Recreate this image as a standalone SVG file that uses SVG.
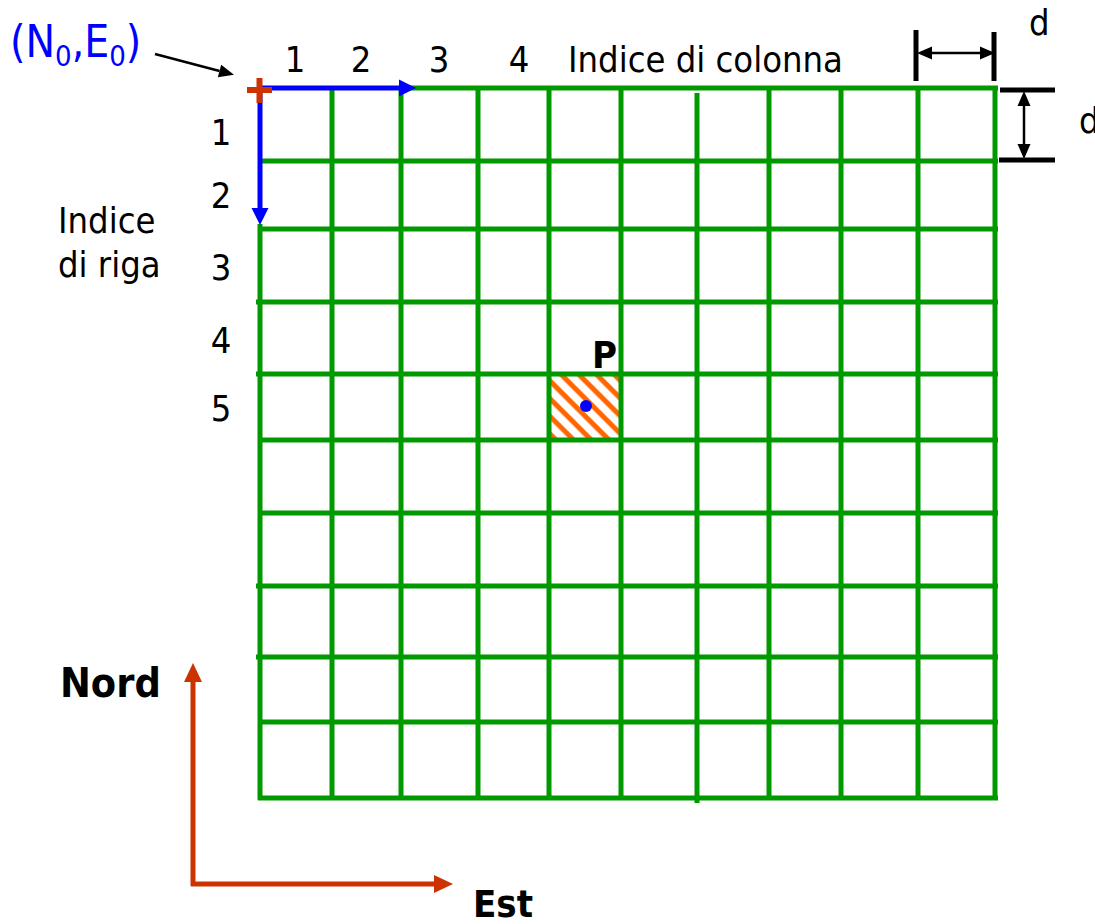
<svg xmlns="http://www.w3.org/2000/svg" width="1095" height="924" viewBox="0 0 1095 924">
<style>
.t{font-family:"DejaVu Sans",Verdana,sans-serif;font-stretch:condensed;font-size:36px;fill:#000}
.b{font-family:"DejaVu Sans",Verdana,sans-serif;font-stretch:condensed;font-weight:bold;fill:#000}
.blue{fill:#0000FF}
.g{stroke:#009900;stroke-width:5;fill:none}
.bl{stroke:#0000FF;stroke-width:5;fill:none}
.rd{stroke:#CC3300;stroke-width:5;fill:none}
.bk{stroke:#000;stroke-width:2.5;fill:none}
.bar{stroke:#000;stroke-width:5;fill:none}
</style>
<defs>
<marker id="ahBlue" markerUnits="userSpaceOnUse" markerWidth="18" markerHeight="18" refX="0" refY="8.5" orient="auto" overflow="visible"><path d="M0,0 L17,8.5 L0,17 z" fill="#0000FF"/></marker>
<marker id="ahRed" markerUnits="userSpaceOnUse" markerWidth="20" markerHeight="20" refX="0" refY="9" orient="auto" overflow="visible"><path d="M0,0 L19,9 L0,18 z" fill="#CC3300"/></marker>
<marker id="ahBlack" markerUnits="userSpaceOnUse" markerWidth="16" markerHeight="14" refX="0" refY="6.5" orient="auto-start-reverse" overflow="visible"><path d="M0,0 L15,6.5 L0,13 z" fill="#000"/></marker>
<pattern id="hatch" patternUnits="userSpaceOnUse" width="12.5" height="12.5" patternTransform="rotate(45)"><rect width="12.5" height="12.5" fill="#fff"/><rect width="12.5" height="5" y="3" fill="#FF6600"/></pattern>
</defs>

<g id="cellP">
<rect x="551" y="376" width="70" height="63" fill="url(#hatch)"/>
</g>

<g id="grid">
<line class="g" x1="258" y1="161" x2="998" y2="161"/>
<line class="g" x1="260" y1="229" x2="998" y2="229"/>
<line class="g" x1="256" y1="302" x2="998" y2="302"/>
<line class="g" x1="256" y1="374" x2="998" y2="374"/>
<line class="g" x1="258" y1="440" x2="998" y2="440"/>
<line class="g" x1="258" y1="513" x2="998" y2="513"/>
<line class="g" x1="256" y1="586" x2="998" y2="586"/>
<line class="g" x1="256" y1="657" x2="998" y2="657"/>
<line class="g" x1="258" y1="722" x2="998" y2="722"/>
<line class="g" x1="258" y1="798" x2="998" y2="798"/>
<line class="g" x1="400" y1="88" x2="998" y2="88"/>
<line class="g" x1="260" y1="224" x2="260" y2="800"/>
<line class="g" x1="332" y1="88" x2="332" y2="800"/>
<line class="g" x1="401" y1="88" x2="401" y2="800"/>
<line class="g" x1="478" y1="88" x2="478" y2="800"/>
<line class="g" x1="549" y1="88" x2="549" y2="800"/>
<line class="g" x1="621" y1="88" x2="621" y2="800"/>
<line class="g" x1="697" y1="93" x2="697" y2="803"/>
<line class="g" x1="769" y1="88" x2="769" y2="800"/>
<line class="g" x1="841" y1="88" x2="841" y2="800"/>
<line class="g" x1="918" y1="88" x2="918" y2="800"/>
<line class="g" x1="995" y1="86" x2="995" y2="800"/>
</g>

<g id="pointP">
<circle cx="586" cy="406" r="6" fill="#0000FF"/>
<text class="b" x="592" y="368" font-size="38">P</text>
</g>

<g id="connectors">
<line class="bl" x1="258" y1="88" x2="399" y2="88" marker-end="url(#ahBlue)"/>
<line class="bl" x1="260" y1="86" x2="260" y2="208" marker-end="url(#ahBlue)"/>
<line class="bk" x1="155" y1="54" x2="219.5" y2="71" marker-end="url(#ahBlack)"/>
<line class="bk" x1="932" y1="53" x2="980" y2="53" marker-start="url(#ahBlack)" marker-end="url(#ahBlack)"/>
<line class="bk" x1="1024" y1="106" x2="1024" y2="144" marker-start="url(#ahBlack)" marker-end="url(#ahBlack)"/>
<line class="rd" x1="193" y1="886" x2="193" y2="682" marker-end="url(#ahRed)"/>
<line class="rd" x1="191" y1="884" x2="434" y2="884" marker-end="url(#ahRed)"/>
</g>

<g id="dimension-bars">
<line class="bar" x1="916" y1="30" x2="916" y2="81"/>
<line class="bar" x1="994" y1="32" x2="994" y2="81"/>
<line class="bar" x1="1000" y1="90" x2="1055" y2="90"/>
<line class="bar" x1="999" y1="160" x2="1055" y2="160"/>
</g>

<g id="origin">
<path d="M247,90 H272 M259.5,78 V103" stroke="#CC3300" stroke-width="6" fill="none"/>
<text class="t blue" x="10" y="57" style="font-size:44px">(N<tspan style="font-size:29px" dy="9">0</tspan><tspan dy="-9">,E</tspan><tspan style="font-size:29px" dy="9">0</tspan><tspan dy="-9">)</tspan></text>
</g>

<g id="labels">
<text class="t" x="295" y="72" text-anchor="middle">1</text>
<text class="t" x="361" y="72" text-anchor="middle">2</text>
<text class="t" x="439" y="72" text-anchor="middle">3</text>
<text class="t" x="519" y="72" text-anchor="middle">4</text>
<text class="t" x="568" y="72">Indice di colonna</text>
<text class="t" x="1029" y="35">d</text>
<text class="t" x="1079" y="133">d</text>
<text class="t" x="221" y="145" text-anchor="middle">1</text>
<text class="t" x="221" y="208" text-anchor="middle">2</text>
<text class="t" x="221" y="280" text-anchor="middle">3</text>
<text class="t" x="221" y="353" text-anchor="middle">4</text>
<text class="t" x="221" y="421" text-anchor="middle">5</text>
<text class="t" x="58" y="233">Indice</text>
<text class="t" x="58" y="277">di riga</text>
<text class="b" x="60" y="697" font-size="41">Nord</text>
<text class="b" x="473" y="917" font-size="38">Est</text>
</g>
</svg>
